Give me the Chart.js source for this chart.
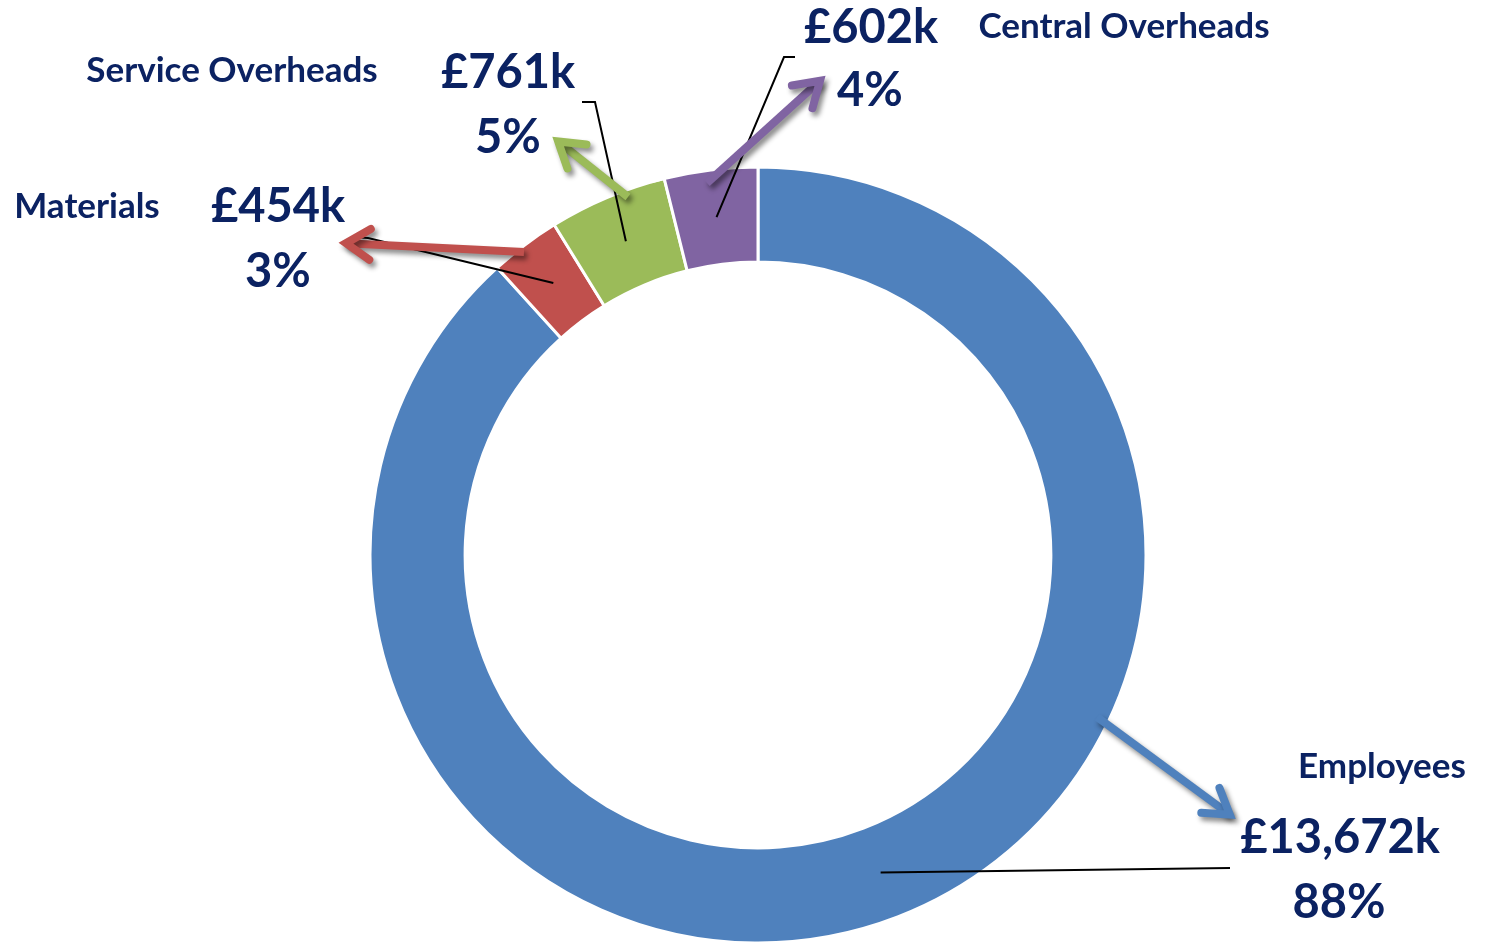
<!DOCTYPE html>
<html>
<head>
<meta charset="utf-8">
<script src="https://cdn.jsdelivr.net/npm/chart.js@4"></script>
<style>
  html, body { margin: 0; padding: 0; background: #ffffff; }
  #wrap { width: 1485px; height: 942px; position: relative; }
</style>
</head>
<body>
<div id="wrap"><canvas id="c" width="1485" height="942"></canvas></div>
<script>
// ---- data ----
const categories = ['Employees', 'Materials', 'Service Overheads', 'Central Overheads'];
const valuesK = [13672, 454, 761, 602];
const colors = ['#4F81BD', '#C0504D', '#9BBB59', '#8064A2'];

// ---- layout for annotations (label positions, arrows, leader bends) ----
const TEXT = '#0B2262';
const FONT = 'Lato, "Open Sans", sans-serif';
const labelLayout = [
  { cat: [1382, 778], val: [1340, 853], pct: [1339, 918],
    arrow: [[1097, 717], [1233, 817]], leader: [[1230, 868]] },
  { cat: [87, 218], val: [278, 222], pct: [278, 287],
    arrow: [[524, 252], [342, 243]], leader: [[368, 238], [353, 237]] },
  { cat: [232, 82], val: [508, 88], pct: [508, 153],
    arrow: [[628, 197], [555, 139]], leader: [[595, 102], [582, 102]] },
  { cat: [1124, 38], val: [871, 43], pct: [870, 106],
    arrow: [[707, 183], [823, 78]], leader: [[784, 57], [795, 57]] }
];

const total = valuesK.reduce((a, b) => a + b, 0);

function drawArrow(ctx, p0, p1, color) {
  const ang = Math.atan2(p1[1] - p0[1], p1[0] - p0[0]);
  const headLen = 32, headAng = 0.5;
  const a1 = [p1[0] - headLen * Math.cos(ang - headAng), p1[1] - headLen * Math.sin(ang - headAng)];
  const a2 = [p1[0] - headLen * Math.cos(ang + headAng), p1[1] - headLen * Math.sin(ang + headAng)];
  const tip = [p1[0] - 4 * Math.cos(ang), p1[1] - 4 * Math.sin(ang)];
  ctx.save();
  ctx.shadowColor = 'rgba(0,0,0,0.45)';
  ctx.shadowBlur = 5;
  ctx.shadowOffsetX = 3;
  ctx.shadowOffsetY = 4;
  ctx.strokeStyle = color;
  ctx.lineWidth = 8;
  ctx.lineJoin = 'miter';
  ctx.beginPath();
  ctx.lineCap = 'butt';
  ctx.moveTo(p0[0], p0[1]);
  ctx.lineTo(tip[0], tip[1]);
  ctx.stroke();
  ctx.lineCap = 'round';
  ctx.beginPath();
  ctx.moveTo(a1[0], a1[1]);
  ctx.lineTo(tip[0], tip[1]);
  ctx.lineTo(a2[0], a2[1]);
  ctx.stroke();
  ctx.restore();
}

const annotationPlugin = {
  id: 'annotations',
  afterDatasetsDraw(chart) {
    const ctx = chart.ctx;
    const meta = chart.getDatasetMeta(0);
    // leader lines from slice centroids
    meta.data.forEach((arc, i) => {
      const p = arc.tooltipPosition();
      const L = labelLayout[i];
      ctx.save();
      ctx.strokeStyle = '#000000';
      ctx.lineWidth = 2;
      ctx.beginPath();
      ctx.moveTo(p.x, p.y);
      L.leader.forEach(q => ctx.lineTo(q[0], q[1]));
      ctx.stroke();
      ctx.restore();
    });
    // arrows
    meta.data.forEach((arc, i) => {
      const L = labelLayout[i];
      drawArrow(ctx, L.arrow[0], L.arrow[1], colors[i]);
    });
    // texts
    ctx.save();
    ctx.fillStyle = TEXT;
    ctx.textAlign = 'center';
    ctx.textBaseline = 'alphabetic';
    categories.forEach((c, i) => {
      const L = labelLayout[i];
      ctx.font = 'bold 35px ' + FONT;
      ctx.fillText(c, L.cat[0], L.cat[1]);
      ctx.font = 'bold 47px ' + FONT;
      ctx.fillText('£' + valuesK[i].toLocaleString('en-GB') + 'k', L.val[0], L.val[1]);
      ctx.fillText(Math.round(valuesK[i] / total * 100) + '%', L.pct[0], L.pct[1]);
    });
    ctx.restore();
  }
};

new Chart(document.getElementById('c'), {
  type: 'doughnut',
  data: {
    labels: categories,
    datasets: [{
      data: valuesK,
      backgroundColor: colors,
      borderColor: '#ffffff',
      borderWidth: 3,
      borderJoinStyle: 'miter'
    }]
  },
  options: {
    responsive: false,
    animation: false,
    radius: 388,
    cutout: 291,
    layout: { padding: { left: 31, right: 0, top: 168, bottom: 0 } },
    plugins: { legend: { display: false }, tooltip: { enabled: false } }
  },
  plugins: [annotationPlugin]
});
</script>
</body>
</html>
